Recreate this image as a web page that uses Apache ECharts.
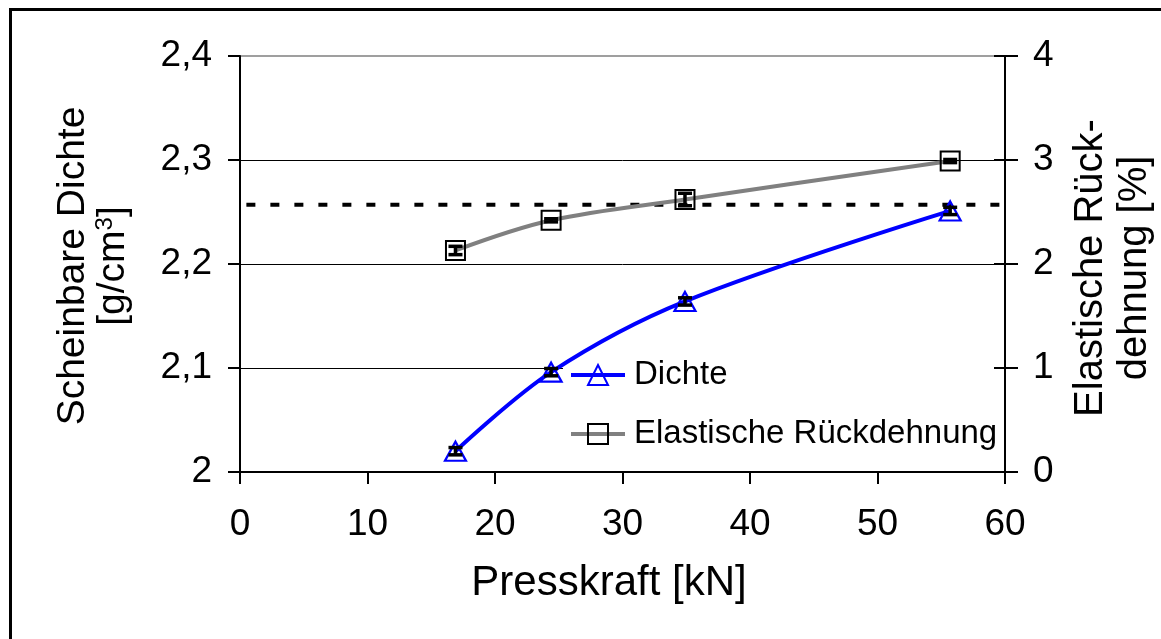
<!DOCTYPE html>
<html>
<head>
<meta charset="utf-8">
<script src="https://cdn.jsdelivr.net/npm/echarts@6/dist/echarts.min.js"></script>
<style>
  html, body { margin: 0; padding: 0; background: #fff; }
  #chart { width: 1161px; height: 639px; }
</style>
</head>
<body>
<div id="chart"></div>
<script>
// Pressing force [kN]
const pressForce = [16.9, 24.4, 34.9, 55.7];
// Apparent density [g/cm3] and its scatter
const density = [2.020, 2.096, 2.164, 2.251];
const densityErr = [0.0035, 0.0035, 0.0035, 0.0035];
// Elastic recovery [%] and its scatter
const recovery = [2.13, 2.42, 2.62, 2.99];
const recoveryErr = [0.04, 0.015, 0.06, 0.015];
// Horizontal reference level (density axis) and its extent on the force axis
const refLevel = 2.257;
const refExtent = [0.5, 61.2];
// Tick labels
const densityTicks = ['2', '2,1', '2,2', '2,3', '2,4'];
const recoveryTicks = ['0', '1', '2', '3', '4'];
const forceTicks = ['0', '10', '20', '30', '40', '50', '60'];

const FONT = '"Liberation Sans", Arial, sans-serif';

const chart = echarts.init(document.getElementById('chart'));

function errorBars(params, api) {
  const x = api.value(0), y = api.value(1), e = api.value(2);
  const hi = api.coord([x, y + e]);
  const lo = api.coord([x, y - e]);
  const hw = 7;
  const st = { stroke: '#000', lineWidth: 3.5 };
  return {
    type: 'group',
    children: [
      { type: 'line', shape: { x1: hi[0], y1: hi[1], x2: lo[0], y2: lo[1] }, style: st },
      { type: 'line', shape: { x1: hi[0] - hw, y1: hi[1], x2: hi[0] + hw, y2: hi[1] }, style: st },
      { type: 'line', shape: { x1: lo[0] - hw, y1: lo[1], x2: lo[0] + hw, y2: lo[1] }, style: st }
    ]
  };
}

const axisLine = { show: true, lineStyle: { color: '#000', width: 2 } };
const tickLabel = { color: '#000', fontSize: 37, fontFamily: FONT };

chart.setOption({
  animation: false,
  backgroundColor: '#fff',
  grid: {
    left: 240, right: 156, top: 56, bottom: 167,
    show: true, borderColor: '#808080', borderWidth: 1.5, backgroundColor: 'transparent'
  },
  xAxis: {
    type: 'value', min: 0, max: 60, interval: 10,
    axisLine: axisLine,
    axisTick: { show: true, length: 12, lineStyle: { color: '#000', width: 2 } },
    axisLabel: Object.assign({ margin: 34, formatter: (v, i) => forceTicks[i] }, tickLabel),
    splitLine: { show: false }
  },
  yAxis: [
    {
      type: 'value', position: 'left', min: 2, max: 2.4, interval: 0.1,
      axisLine: axisLine,
      axisTick: { show: true, length: 12, lineStyle: { color: '#000', width: 2 } },
      axisLabel: Object.assign({ margin: 28, formatter: (v, i) => densityTicks[i] }, tickLabel),
      splitLine: { show: true, showMinLine: false, showMaxLine: false, lineStyle: { color: '#000', width: 1 } }
    },
    {
      type: 'value', position: 'right', min: 0, max: 4, interval: 1,
      axisLine: axisLine,
      axisTick: { show: true, length: 13, lineStyle: { color: '#000', width: 2 } },
      axisLabel: Object.assign({ margin: 28, formatter: (v, i) => recoveryTicks[i] }, tickLabel),
      splitLine: { show: false }
    },
    {
      // secondary axis line above the legend box, with the inner half of its crossing ticks
      type: 'value', position: 'right', min: 0, max: 4, interval: 1, z: 5,
      axisLine: axisLine,
      axisTick: { show: true, inside: true, length: 11, lineStyle: { color: '#000', width: 2 } },
      axisLabel: { show: false },
      splitLine: { show: false }
    }
  ],
  legend: {
    data: ['Dichte', 'Elastische Rückdehnung'],
    orient: 'vertical',
    left: 563, top: 353,
    padding: [4, 4, 4, 6],
    backgroundColor: '#fff',
    z: 1,
    itemWidth: 54, itemHeight: 25, itemGap: 23,
    lineStyle: { width: 4 },
    textStyle: { color: '#000', fontSize: 33, fontFamily: FONT, lineHeight: 36, padding: [0, 0, 0, 4] }
  },
  series: [
    {
      name: 'Elastische Rückdehnung', type: 'line', xAxisIndex: 0, yAxisIndex: 1,
      data: pressForce.map((x, i) => [x, recovery[i]]),
      smooth: 0.35,
      lineStyle: { color: '#808080', width: 4 },
      symbol: 'rect', symbolSize: 19,
      itemStyle: { color: 'rgba(0,0,0,0)', borderColor: '#000', borderWidth: 2 },
      z: 3
    },
    {
      name: 'Dichte', type: 'line', xAxisIndex: 0, yAxisIndex: 0,
      data: pressForce.map((x, i) => [x, density[i]]),
      smooth: 0.35,
      lineStyle: { color: '#0000ff', width: 4 },
      symbol: 'triangle', symbolSize: [21, 19],
      itemStyle: { color: 'rgba(0,0,0,0)', borderColor: '#0000ff', borderWidth: 2.2 },
      z: 3
    },
    {
      name: 'ref', type: 'line', xAxisIndex: 0, yAxisIndex: 0,
      data: refExtent.map(x => [x, refLevel]),
      symbol: 'none', clip: false, silent: true,
      lineStyle: { color: '#000', width: 4, type: [9, 15] },
      z: 2
    },
    {
      name: 'densityErr', type: 'custom', xAxisIndex: 0, yAxisIndex: 0,
      data: pressForce.map((x, i) => [x, density[i], densityErr[i]]),
      renderItem: errorBars, silent: true, z: 4
    },
    {
      name: 'recoveryErr', type: 'custom', xAxisIndex: 0, yAxisIndex: 1,
      data: pressForce.map((x, i) => [x, recovery[i], recoveryErr[i]]),
      renderItem: errorBars, silent: true, z: 4
    }
  ],
  graphic: [
    {
      type: 'rect', z: 100, silent: true,
      shape: { x: 10.5, y: 9.5, width: 1400, height: 900 },
      style: { fill: 'none', stroke: '#000', lineWidth: 3 }
    },
    {
      type: 'text', x: 609, y: 583, z: 100,
      style: { text: 'Presskraft [kN]', font: '42px ' + FONT, fill: '#000', align: 'center', verticalAlign: 'middle' }
    },
    {
      type: 'text', x: 73, y: 266, rotation: Math.PI / 2, z: 100,
      style: { text: 'Scheinbare Dichte', font: '39px ' + FONT, fill: '#000', align: 'center', verticalAlign: 'middle' }
    },
    {
      type: 'text', x: 113, y: 266, rotation: Math.PI / 2, z: 100,
      style: {
        text: '{a|[g/cm}{s|3}{a|]}',
        align: 'center', verticalAlign: 'middle',
        rich: {
          a: { fontSize: 39, fontFamily: FONT, fill: '#000', lineHeight: 39, verticalAlign: 'bottom' },
          s: { fontSize: 24, fontFamily: FONT, fill: '#000', lineHeight: 24, verticalAlign: 'top', padding: [0, 0, 30, 0] }
        }
      }
    },
    {
      type: 'text', x: 1091, y: 268, rotation: Math.PI / 2, z: 100,
      style: { text: 'Elastische Rück-', font: '40px ' + FONT, fill: '#000', align: 'center', verticalAlign: 'middle' }
    },
    {
      type: 'text', x: 1135, y: 268, rotation: Math.PI / 2, z: 100,
      style: { text: 'dehnung [%]', font: '40px ' + FONT, fill: '#000', align: 'center', verticalAlign: 'middle' }
    }
  ]
});
</script>
</body>
</html>
